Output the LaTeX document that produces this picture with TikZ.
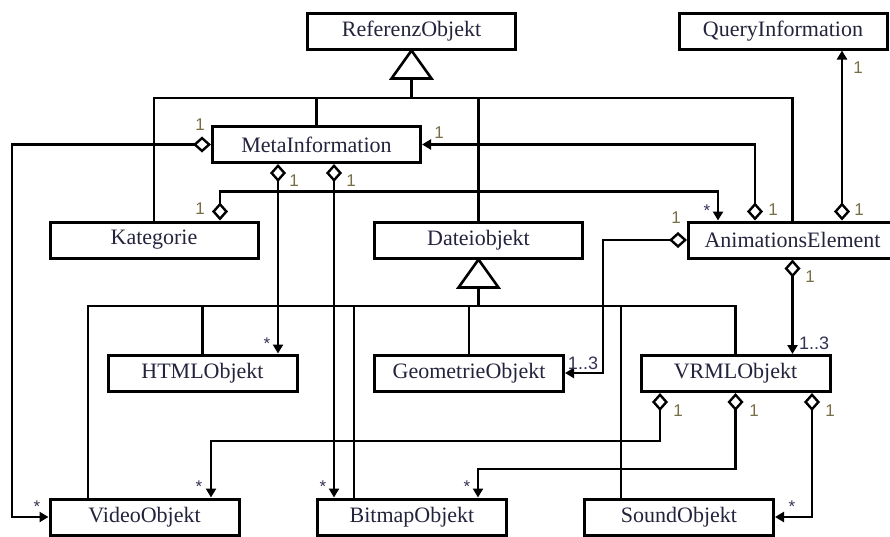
\documentclass[tikz,border=0pt]{standalone}
\usepackage{fontspec}
\setmainfont{Liberation Serif}
\newfontfamily\multfont{Liberation Sans}
\usetikzlibrary{arrows.meta}
\definecolor{boxtext}{RGB}{35,35,60}
\definecolor{multone}{RGB}{120,110,70}
\definecolor{multstar}{RGB}{50,50,85}
\begin{document}
\begin{tikzpicture}[x=1pt, y=-1pt, line join=miter,
	cls/.style={draw, line width=3pt, minimum width=208pt, minimum height=36pt, inner sep=0pt, text=boxtext, font=\fontsize{22}{26}\selectfont},
	clss/.style={cls, minimum width=189pt},
	conn/.style={line width=2.4pt},
	agg/.style={conn, {Diamond[fill=white, length=18pt, width=16pt]}-{Triangle[length=9pt, width=10pt]}},
	gen/.style={line width=2.6pt, fill=white},
	one/.style={inner sep=0pt, text=multone, font=\multfont\fontsize{17}{19}\selectfont},
	multrange/.style={inner sep=0pt, text=multstar, font=\multfont\fontsize{18}{20}\selectfont},
	star/.style={inner sep=0pt, text=multstar, font=\multfont\fontsize{17}{19}\selectfont}]
	\useasboundingbox (0,0) rectangle (890,536);
	\clip (0,0) rectangle (890,536);
	% classes
	\node[cls] (refobj) at (411.5,31) {ReferenzObjekt};
	\node[cls] (query) at (783,31) {QueryInformation};
	\node[cls] (meta) at (316.5,144.5) {MetaInformation};
	\node[cls] (kat) at (154,240) {Kategorie};
	\node[cls] (datei) at (478.5,240) {Dateiobjekt};
	\node[cls] (anim) at (792.5,240) {AnimationsElement};
	\node[clss] (html) at (202.5,373) {HTMLObjekt};
	\node[clss] (geom) at (469,373) {GeometrieObjekt};
	\node[clss] (vrml) at (735.5,373.5) {VRMLObjekt};
	\node[clss] (video) at (144.5,517) {VideoObjekt};
	\node[clss] (bitmap) at (412,517) {BitmapObjekt};
	\node[clss] (sound) at (679,517) {SoundObjekt};
	% generalisation
	\coordinate (busA) at (0,98);
	\coordinate (busB) at (0,306);
	\draw[conn] ([yshift=-28pt]refobj.south) -- (refobj.south |- busA);
	\draw[conn] (kat.north) |- (busA -| anim.north) -- (anim.north);
	\draw[conn] (meta.north) -- (meta.north |- busA);
	\draw[conn] (datei.north) -- (datei.north |- busA);
	\draw[gen] (refobj.south) -- ++(20,28) -- ++(-40,0) -- cycle;
	\draw[conn] ([yshift=-28pt]datei.south) -- (datei.south |- busB);
	\draw[conn] ([xshift=-56.5pt]video.north) |- (busB -| vrml.north) -- (vrml.north);
	\draw[conn] (html.north) -- (html.north |- busB);
	\draw[conn] (geom.north) -- (geom.north |- busB);
	\draw[conn] ([xshift=-58pt]bitmap.north) coordinate (b1) -- (b1 |- busB);
	\draw[conn] ([xshift=-58pt]sound.north) coordinate (s1) -- (s1 |- busB);
	\draw[gen] (datei.south) -- ++(20,28) -- ++(-40,0) -- cycle;
	% aggregations
	\coordinate (leftX) at (12,0);
	\draw[agg] (meta.west) -- (meta.west -| leftX) |- (video.west);
	\draw[agg] ([xshift=-38.5pt]meta.south) coordinate (m1) -- (m1 |- html.north);
	\draw[agg] ([xshift=17.5pt]meta.south) coordinate (m2) -- (m2 |- bitmap.north);
	\draw[agg] ([xshift=66pt]kat.north) -- ++(0,-29) -| ([xshift=-74.5pt]anim.north);
	\draw[agg] ([xshift=-37.5pt]anim.north) |- (meta.east);
	\draw[agg] ([xshift=49.5pt]anim.north) coordinate (a2) -- (a2 |- query.south);
	\draw[agg] (anim.west) -- ++(-84,0) |- (geom.east);
	\draw[agg] (anim.south) -- (anim.south |- vrml.north);
	\draw[agg] ([xshift=-75.5pt]vrml.south) -- ++(0,48) -| ([xshift=66.5pt]video.north);
	\draw[agg] (vrml.south) -- ++(0,76) -| ([xshift=66pt]bitmap.north);
	\draw[agg] ([xshift=76.5pt]vrml.south) |- (sound.east);
	% multiplicities
	\node[one] (l1) at (200,125) {1};
	\node[one] (l2) at (294,181) {1};
	\node[one] (l3) at (351,181) {1};
	\node[one] (l4) at (439,133) {1};
	\node[one] (l5) at (200,209) {1};
	\node[one] (l6) at (773,210) {1};
	\node[one] (l7) at (859,210) {1};
	\node[one] (l8) at (858,68) {1};
	\node[one] (l9) at (676,218) {1};
	\node[one] (l10) at (810,277) {1};
	\node[one] (l11) at (678,411) {1};
	\node[one] (l12) at (754,411) {1};
	\node[one] (l13) at (830,411) {1};
	\node[multrange] (r1) at (583,363) {1..3};
	\node[multrange] (r2) at (814,343) {1..3};
	\node[star] (st1) at (707,211) {*};
	\node[star] (st2) at (267,344) {*};
	\node[star] (st3) at (37,507) {*};
	\node[star] (st4) at (199,487) {*};
	\node[star] (st5) at (323,487) {*};
	\node[star] (st6) at (467,487) {*};
	\node[star] (st7) at (792,507) {*};
\end{tikzpicture}
\end{document}
